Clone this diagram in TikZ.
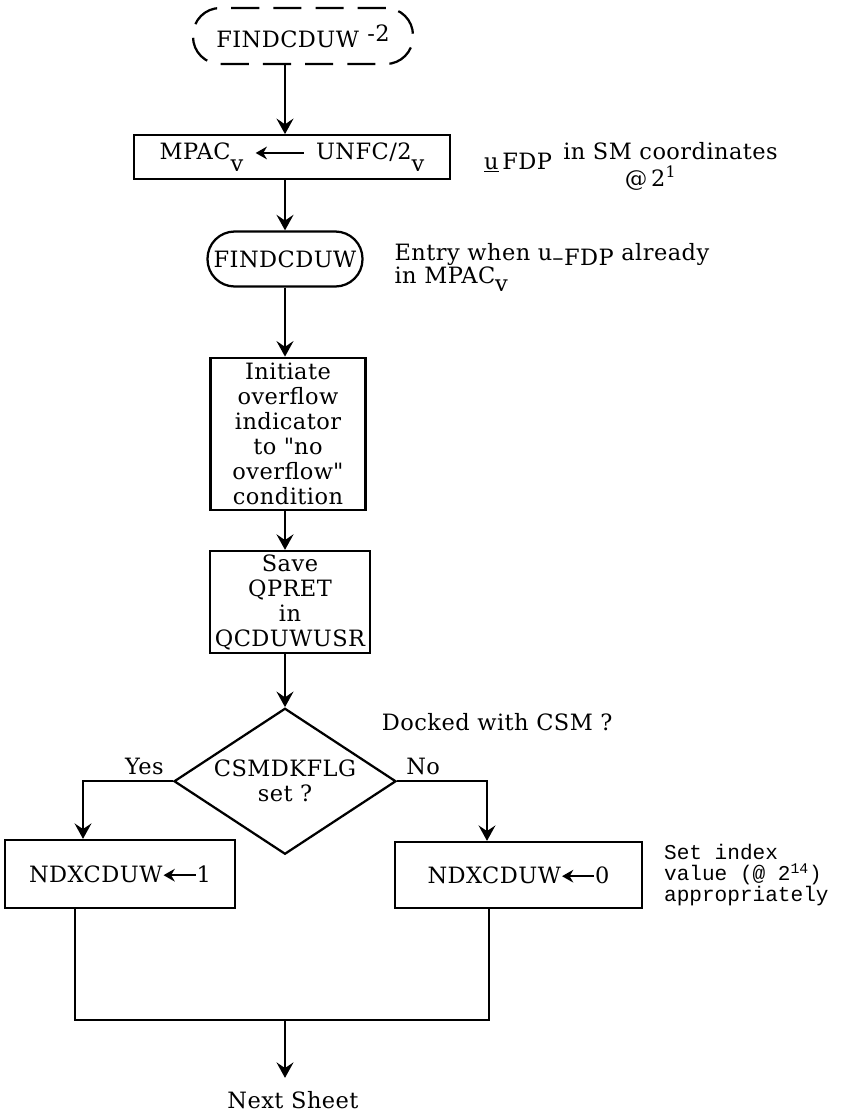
\documentclass[tikz,border=0pt]{standalone}
\usepackage{fontspec}
\setmainfont{DejaVu Serif}[LetterSpace=2]
\setmonofont{Liberation Mono}
\usetikzlibrary{arrows.meta,positioning,shapes.geometric}

% assignment arrow inside the boxes
\newcommand{\lgets}[1]{\tikz[baseline=-0.6ex]\draw[{Stealth[length=8pt,width=9pt]}-,line width=1.6pt] (0,0) -- (#1,0);}
% vector subscript
\newcommand{\sv}{\raisebox{-0.5em}{v}}

\begin{document}
\begin{tikzpicture}[>={Stealth[length=11pt,width=12pt,inset=4pt]}]
    \tikzstyle{box}=[draw, line width=1.6pt, align=center, inner sep=2pt, font=\fontsize{16}{17.8}\selectfont]
    \tikzstyle{term}=[box, rounded corners=0.68cm]
    \tikzstyle{note}=[align=left, anchor=west, font=\fontsize{16}{17}\selectfont]
    \tikzstyle{flow}=[->, line width=2pt]
    \tikzstyle{branch}=[line width=1.4pt]

    \useasboundingbox (0,0) rectangle (21,-27.875);

    \node[term, dash pattern=on 20pt off 10pt, minimum width=5.5cm, minimum height=1.4cm] (entry2) at (7.575,-0.9) {FINDCDUW\hspace{6pt}\raisebox{4pt}{-2}};
    \node[box, minimum width=7.9cm, minimum height=1.1cm, below=1.725cm of entry2, xshift=-0.275cm] (mpac) {MPAC\sv\enspace\lgets{1.2}\enspace UNFC/2\sv};
    \node[term, minimum width=3.875cm, minimum height=1.375cm, below=1.25cm of mpac, xshift=-0.175cm] (findcduw) {FINDCDUW};
    \node[box, minimum width=3.875cm, minimum height=3.8cm, below=1.725cm of findcduw, xshift=0.075cm] (init) {Initiate\\overflow\\indicator\\to \textquotedbl no\\overflow\textquotedbl\\condition};
    \node[box, minimum width=4.0cm, minimum height=2.55cm, below=0.975cm of init, xshift=0.05cm] (save) {Save\\QPRET\\in\\QCDUWUSR};
    \node[box, diamond, aspect=1.52, minimum width=5.55cm, minimum height=3.65cm, inner sep=0pt, below=1.325cm of save, xshift=-0.125cm] (dec) {CSMDKFLG\\set ?};
    \node[box, minimum width=5.75cm, minimum height=1.7cm] (ndxone) at (3.0,-21.85) {NDXCDUW\lgets{0.8}1};
    \node[box, minimum width=6.175cm, minimum height=1.65cm] (ndxzero) at (12.9625,-21.875) {NDXCDUW\lgets{0.8}0};
    \node[font=\fontsize{16}{17.8}\selectfont] (next) at (7.325,-27.5) {Next Sheet};

    % side remarks
    \node[note, right=0.7cm of mpac] (sminfo) {\underline{u}\,FDP\enspace\raisebox{7pt}{in SM coordinates}};
    \node[note] (smscale) at (15.5,-4.45) {@\,2\textsuperscript{1}};
    \node[note, right=0.65cm of findcduw, yshift=-0.2cm] (entrynote) {Entry when u\raisebox{-4pt}{--FDP} already\\in MPAC\raisebox{-5pt}{v}};
    \node[note] (docked) at (9.425,-18.05) {Docked with CSM ?};
    \node[note, font=\ttfamily\fontsize{15}{15}\selectfont, right=0.4cm of ndxzero] (setnote) {Set index\\value (@ 2\textsuperscript{14})\\appropriately};
    \node[note, above left=1pt and 3pt of dec.west, anchor=south east] (yes) {Yes};
    \node[note, above right=1pt and 3pt of dec.east, anchor=south west] (no) {No};

    \draw[flow] (entry2.south -| findcduw) -- (mpac.north -| findcduw);
    \draw[flow] (mpac.south -| findcduw) -- (findcduw);
    \draw[flow] (findcduw) -- (init.north -| findcduw);
    \draw[flow] (init.south -| findcduw) -- (save.north -| findcduw);
    \draw[flow] (save.south -| findcduw) -- (dec);

    \draw[flow, branch] (dec.west) -| ([xshift=-0.925cm]ndxone.north);
    \draw[flow, branch] (dec.east) -| ([xshift=-0.7875cm]ndxzero.north);

    \coordinate (join) at (7.125,-25.5);
    \draw[branch] ([xshift=-1.125cm]ndxone.south) |- (join) -| ([xshift=-0.7375cm]ndxzero.south);
    \draw[flow, shorten >=6pt] (join) -- (join |- next.north);
\end{tikzpicture}
\end{document}
